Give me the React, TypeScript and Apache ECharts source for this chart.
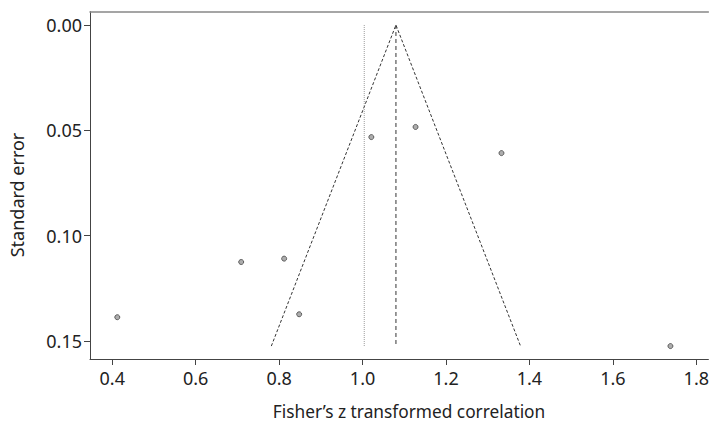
import React, { useEffect, useRef } from "react";
import * as echarts from "echarts";

// Study estimates (Fisher's z) and their standard errors
const studyZ = [0.412, 0.709, 0.812, 0.848, 1.021, 1.127, 1.333, 1.738];
const studySE = [0.1387, 0.1125, 0.1109, 0.1373, 0.0532, 0.0484, 0.0608, 0.1524];

// Pooled estimates
const fixedEstimate = 1.08;
const randomEstimate = 1.004;
const maxSE = 0.1524;
const zCrit = 1.96;

// Axis ticks and titles
const xTicks = [0.4, 0.6, 0.8, 1.0, 1.2, 1.4, 1.6, 1.8];
const yTicks = [0.0, 0.05, 0.1, 0.15];
const xTitle = "Fisher\u2019s z transformed correlation";
const yTitle = "Standard error";

const FONT = "Noto Sans";

export default function App() {
  const ref = useRef<HTMLDivElement>(null);
  useEffect(() => {
    if (!ref.current) return;
    const chart = echarts.init(ref.current, null, { renderer: "svg" });
    const points = studyZ.map((z, i) => [z, studySE[i]]);
    const funnel = [
      [fixedEstimate - zCrit * maxSE, maxSE],
      [fixedEstimate, 0],
      [fixedEstimate + zCrit * maxSE, maxSE],
    ];
    chart.setOption({
      animation: false,
      grid: { left: 90, top: 11.7, right: 0, bottom: 64, containLabel: false },
      graphic: [
        {
          type: "text",
          x: 409,
          y: 411,
          style: {
            text: xTitle,
            fontFamily: FONT,
            fontSize: 17.3,
            fill: "#222",
            align: "center",
            verticalAlign: "middle",
          },
        },
        {
          type: "text",
          x: 17,
          y: 195,
          rotation: Math.PI / 2,
          style: {
            text: yTitle,
            fontFamily: FONT,
            fontSize: 18,
            fill: "#222",
            align: "center",
            verticalAlign: "middle",
          },
        },
      ],
      xAxis: [
        {
          type: "value",
          min: 0.3466,
          max: 1.829,
          position: "bottom",
          axisLine: { show: true, onZero: false, lineStyle: { color: "#444", width: 1 } },
          axisTick: { show: true, length: 6, customValues: xTicks, lineStyle: { color: "#444" } },
          axisLabel: {
            customValues: xTicks,
            formatter: (v: number) => v.toFixed(1),
            fontFamily: FONT,
            fontSize: 18,
            color: "#222",
            margin: 10,
          },
          splitLine: { show: false },
        },
        {
          type: "value",
          min: 0.3466,
          max: 1.829,
          position: "top",
          axisLine: { show: true, onZero: false, lineStyle: { color: "#888", width: 1.5 } },
          axisTick: { show: false },
          axisLabel: { show: false },
          splitLine: { show: false },
        },
      ],
      yAxis: {
        type: "value",
        inverse: true,
        min: -0.00631,
        max: 0.15854,
        axisLine: { show: true, onZero: false, lineStyle: { color: "#444", width: 1 } },
        axisTick: { show: true, length: 6, customValues: yTicks, lineStyle: { color: "#444" } },
        axisLabel: {
          customValues: yTicks,
          formatter: (v: number) => v.toFixed(2),
          fontFamily: FONT,
          fontSize: 18,
          color: "#222",
          margin: 8,
        },
        splitLine: { show: false },
      },
      series: [
        {
          type: "line",
          data: funnel,
          symbol: "none",
          lineStyle: { color: "#333", width: 1, type: [3, 2] },
          silent: true,
        },
        {
          type: "line",
          data: [
            [fixedEstimate, 0],
            [fixedEstimate, maxSE],
          ],
          symbol: "none",
          lineStyle: { color: "#333", width: 1, type: [4, 3] },
          silent: true,
        },
        {
          type: "line",
          data: [
            [randomEstimate, 0],
            [randomEstimate, maxSE],
          ],
          symbol: "none",
          lineStyle: { color: "#999", width: 1, type: [1, 1] },
          silent: true,
        },
        {
          type: "scatter",
          data: points,
          symbol: "circle",
          symbolSize: 5,
          itemStyle: { color: "#999", borderColor: "#444", borderWidth: 1 },
        },
      ],
    });
    return () => chart.dispose();
  }, []);
  return (
    <div
      ref={ref}
      style={{ position: "fixed", left: 0, top: 0, width: 712, height: 423, background: "#fff" }}
    />
  );
}
